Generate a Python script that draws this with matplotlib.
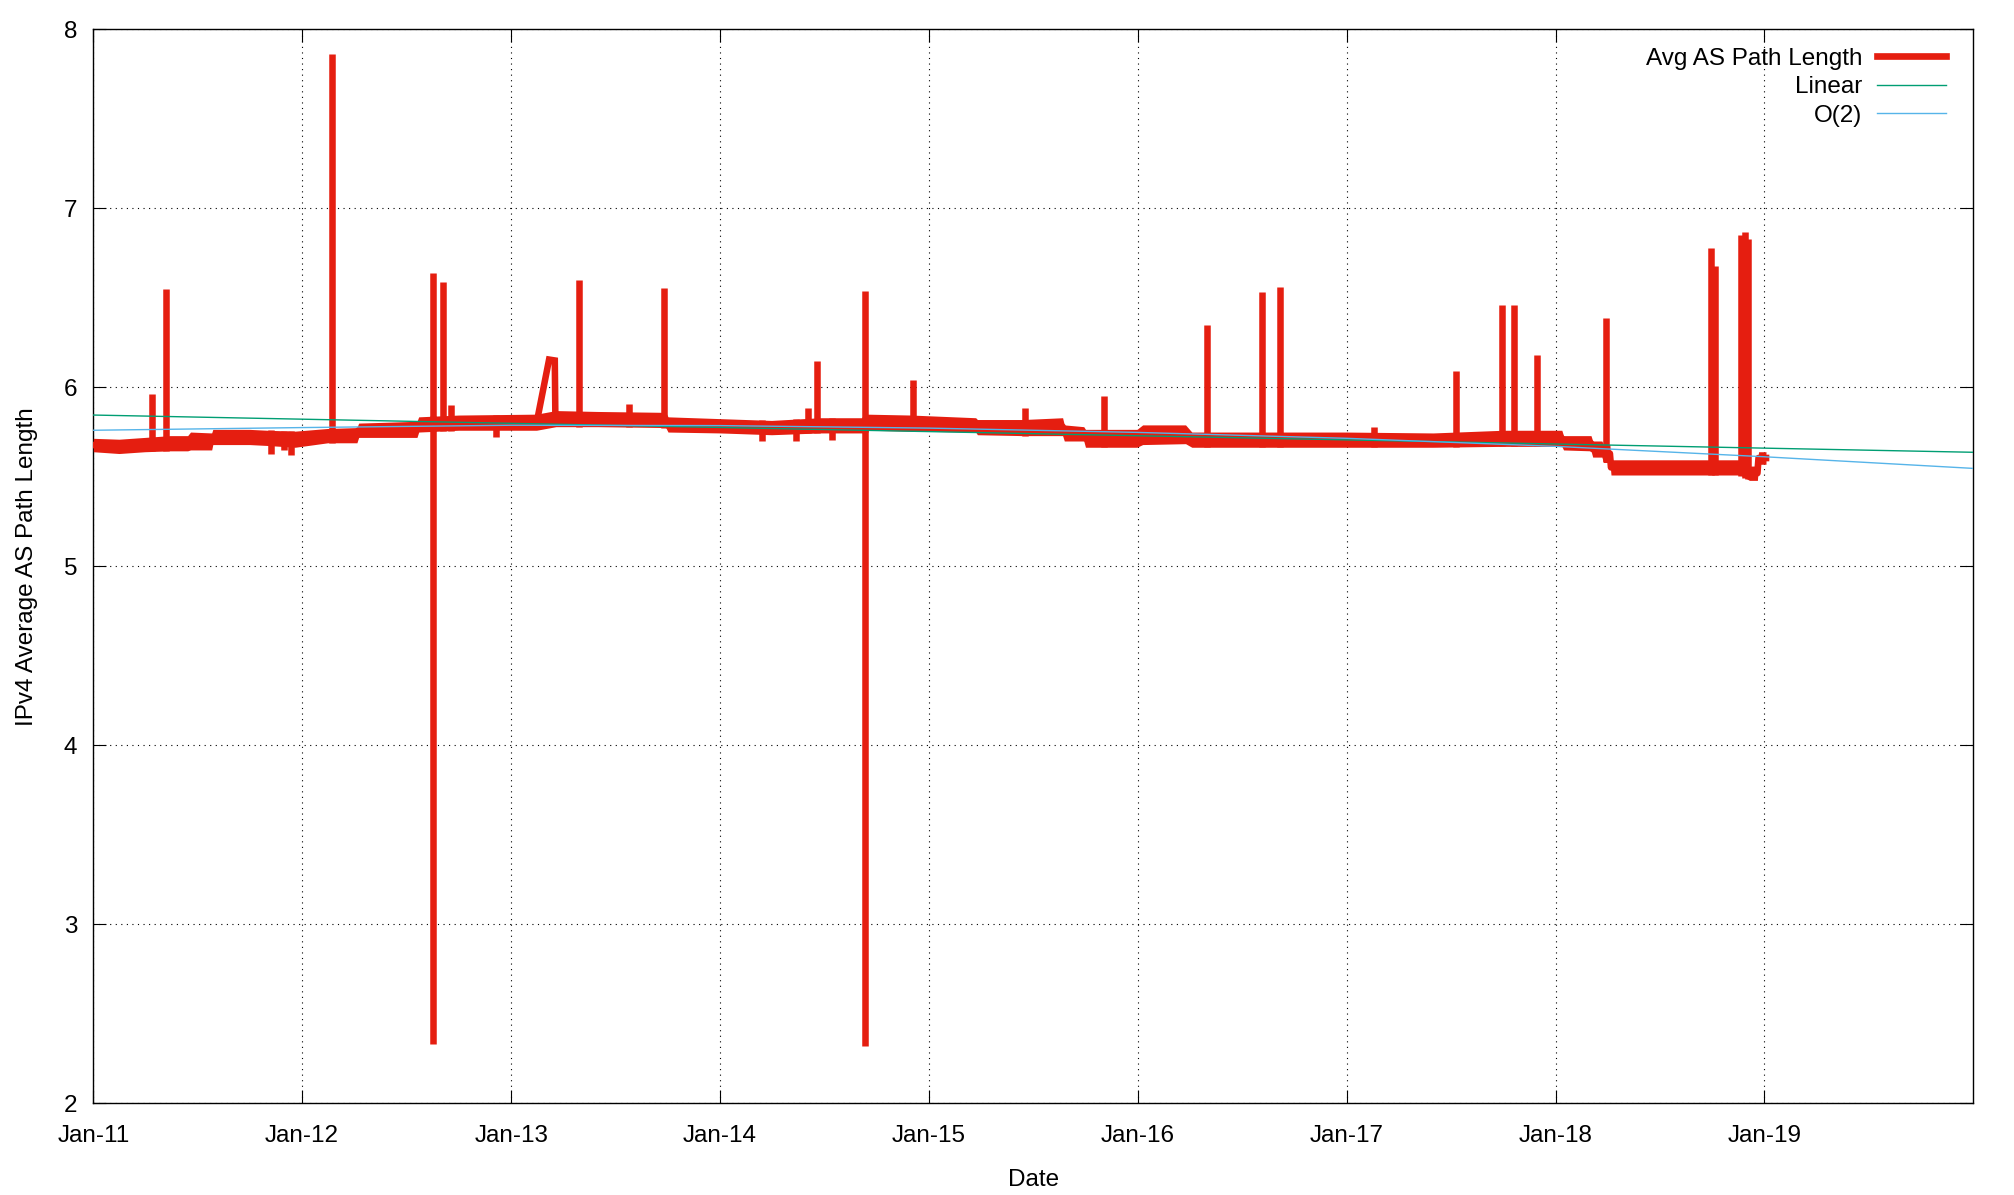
"""
IPv4 average AS path length over time, with linear and O(2) fits.
Values read off the original gnuplot chart.
"""
import numpy as np
import pandas as pd
import matplotlib
matplotlib.use("Agg")
import matplotlib.pyplot as plt
import matplotlib.dates as mdates

plt.rcParams['font.family'] = ['Liberation Sans', 'DejaVu Sans']

RED = "#e51e10"
GREEN = "#009e73"
BLUE = "#56b4e9"

# daily band of the series (lower / upper edge), read at step changes
band_dates = [
    "2011-01-01", "2011-02-15", "2011-04-01", "2011-05-15", "2011-06-15",
    "2011-06-20", "2011-07-27", "2011-07-29", "2011-10-01", "2011-11-01",
    "2011-12-20", "2012-02-15", "2012-04-06", "2012-04-09", "2012-07-20",
    "2012-07-23", "2012-10-01", "2013-02-14", "2013-03-20", "2013-06-01",
    "2013-09-28", "2013-10-02", "2014-01-01", "2014-04-01", "2014-06-25",
    "2014-09-10", "2014-09-14", "2014-12-01", "2015-03-24", "2015-03-27",
    "2015-06-15", "2015-08-23", "2015-08-26", "2015-09-29", "2015-10-02",
    "2015-12-31", "2016-01-10", "2016-03-25", "2016-04-05", "2016-12-31",
    "2017-06-01", "2017-10-01", "2018-01-12", "2018-01-15", "2018-03-04",
    "2018-03-07", "2018-03-23", "2018-03-26", "2018-04-06", "2018-04-08",
    "2018-11-20", "2018-12-06", "2018-12-20", "2018-12-22", "2019-01-04",
]
band_low = [
    5.64, 5.63, 5.64, 5.645, 5.645, 5.65, 5.65, 5.68, 5.68, 5.675,
    5.665, 5.69, 5.69, 5.72, 5.72, 5.75, 5.76, 5.76, 5.78, 5.78,
    5.775, 5.75, 5.745, 5.735, 5.745, 5.745, 5.76, 5.755, 5.75, 5.735,
    5.73, 5.73, 5.70, 5.70, 5.665, 5.665, 5.68, 5.685, 5.665, 5.665,
    5.665, 5.67, 5.67, 5.65, 5.645, 5.61, 5.61, 5.58, 5.58, 5.51,
    5.51, 5.48, 5.48, 5.57, 5.57,
]
band_high = [
    5.715, 5.71, 5.72, 5.73, 5.73, 5.75, 5.745, 5.765, 5.765, 5.76,
    5.755, 5.77, 5.775, 5.80, 5.81, 5.835, 5.845, 5.85, 5.87, 5.865,
    5.86, 5.835, 5.825, 5.815, 5.83, 5.83, 5.85, 5.845, 5.83, 5.82,
    5.82, 5.83, 5.79, 5.78, 5.765, 5.765, 5.79, 5.79, 5.75, 5.75,
    5.745, 5.76, 5.76, 5.73, 5.73, 5.70, 5.70, 5.68, 5.68, 5.595,
    5.595, 5.56, 5.56, 5.64, 5.64,
]

# upward spikes
spike_dates = [
    "2011-04-13", "2011-05-08", "2012-02-22", "2012-08-17", "2012-09-04",
    "2012-09-17", "2013-04-30", "2013-07-25", "2013-09-25", "2014-06-04",
    "2014-06-19", "2014-09-11", "2014-12-04", "2015-06-19", "2015-11-04",
    "2016-05-02", "2016-08-05", "2016-09-07", "2017-02-18", "2017-07-11",
    "2017-09-29", "2017-10-21", "2017-11-30", "2018-03-30", "2018-09-29",
    "2018-10-07", "2018-11-22", "2018-11-28", "2018-12-03",
]
spike_tops = [
    5.96, 6.55, 7.86, 6.64, 6.59, 5.90, 6.60, 5.905, 6.555, 5.885,
    6.145, 6.54, 6.04, 5.885, 5.95, 6.35, 6.53, 6.56, 5.78, 6.09,
    6.46, 6.46, 6.18, 6.385, 6.78, 6.68, 6.85, 6.87, 6.83,
]

# downward spikes and small dips
dip_dates = [
    "2012-08-17", "2014-09-11", "2011-11-07", "2011-12-01", "2011-12-12",
    "2012-12-05", "2014-03-16", "2014-05-14", "2014-07-15",
]
dip_bottoms = [2.33, 2.32, 5.63, 5.65, 5.62, 5.72, 5.70, 5.70, 5.705]

# ramp in early 2013
ramp_dates = ["2013-02-16", "2013-03-08", "2013-03-18", "2013-03-19"]
ramp_vals = [5.83, 6.155, 6.15, 5.83]

# fitted curves
linear_dates = ["2011-01-01", "2020-01-01"]
linear_vals = [5.845, 5.637]
quad_dates = [
    "2011-01-01", "2012-01-01", "2013-01-01", "2014-01-01", "2015-01-01",
    "2016-01-01", "2017-01-01", "2018-01-01", "2019-01-01", "2020-01-01",
]
quad_vals = [5.760, 5.775, 5.788, 5.786, 5.772, 5.748, 5.715, 5.670, 5.612, 5.547]

tick_dates = ["2011-01-01", "2012-01-01", "2013-01-01", "2014-01-01", "2015-01-01",
              "2016-01-01", "2017-01-01", "2018-01-01", "2019-01-01"]


def main():
    bd = pd.to_datetime(band_dates)
    low = np.array(band_low)
    high = np.array(band_high)
    mid = (low + high) / 2

    fig = plt.figure(figsize=(20.14, 11.95), dpi=100)
    ax = fig.add_axes([0.04633, 0.07674, 0.93331, 0.89874])

    ax.fill_between(bd, low, high, color=RED, linewidth=0, zorder=3)
    ax.plot(bd, mid, color=RED, lw=4.8, zorder=3, label="Avg AS Path Length")

    sd = pd.to_datetime(spike_dates)
    sbase = np.interp(mdates.date2num(sd), mdates.date2num(bd), low)
    ax.vlines(sd, sbase, spike_tops, color=RED, lw=4.7, capstyle="butt", zorder=3)

    dd = pd.to_datetime(dip_dates)
    dbase = np.interp(mdates.date2num(dd), mdates.date2num(bd), high)
    ax.vlines(dd, dip_bottoms, dbase, color=RED, lw=4.7, capstyle="butt", zorder=3)

    ax.plot(pd.to_datetime(ramp_dates), ramp_vals, color=RED, lw=4.7,
            solid_joinstyle="miter", zorder=3)

    ax.plot(pd.to_datetime(linear_dates), linear_vals, color=GREEN, lw=1.0,
            zorder=4, label="Linear")
    ax.plot(pd.to_datetime(quad_dates), quad_vals, color=BLUE, lw=1.0,
            zorder=4, label="O(2)")

    ax.set_xlim(pd.Timestamp("2011-01-01"), pd.Timestamp("2020-01-01"))
    ax.set_ylim(2, 8)
    ax.set_xticks(pd.to_datetime(tick_dates))
    ax.xaxis.set_major_formatter(mdates.DateFormatter("%b-%y"))
    ax.set_yticks([2, 3, 4, 5, 6, 7, 8])

    ax.tick_params(direction="in", length=9.5, width=0.8, labelsize=17.5,
                   top=True, right=True)
    ax.tick_params(axis="x", pad=15.5)
    ax.tick_params(axis="y", pad=11.5)
    for sp in ax.spines.values():
        sp.set_linewidth(1.0)

    ax.grid(True, color="black", linestyle=(0, (1, 4)), linewidth=0.8)
    ax.set_axisbelow(True)

    ax.set_xlabel("Date", fontsize=17.5, va="center")
    ax.xaxis.set_label_coords(0.5, -0.0714)
    ax.set_ylabel("IPv4 Average AS Path Length", fontsize=17.5, va="center")
    ax.yaxis.set_label_coords(-0.0353, 0.5)

    ax.legend(loc="upper right", bbox_to_anchor=(0.991, 0.992), borderaxespad=0,
              frameon=False, markerfirst=False, fontsize=17.5, handlelength=2.85,
              handletextpad=0.62, labelspacing=0.27)

    fig.savefig("out.png", dpi=100)
    plt.close(fig)


if __name__ == "__main__":
    main()
